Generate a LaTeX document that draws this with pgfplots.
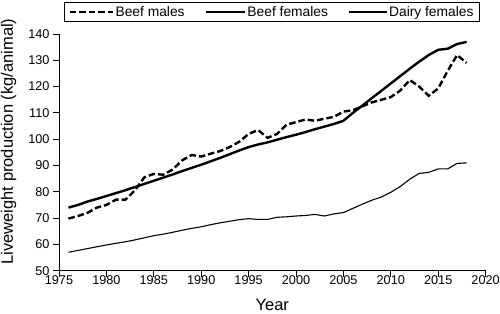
\documentclass[border=0pt]{standalone}
\usepackage{fontspec}
\setmainfont{Liberation Sans}
\usepackage{pgfplots}
\pgfplotsset{compat=1.18}
\pgfplotsset{legline/.style 2 args={legend image code/.code={\draw[##1, line width=#2] (0pt,0pt) -- (#1,0pt);}}}
\begin{document}
\begin{tikzpicture}
\path[use as bounding box] (0pt,0pt) rectangle (500pt,313pt);
\begin{axis}[
  at={(59pt,42.3pt)}, anchor=south west,
  scale only axis, width=426.6pt, height=236.7pt,
  xmin=1975, xmax=2020, ymin=50, ymax=140,
  axis x line=bottom, axis y line=left,
  axis line style={-, line width=1pt, black},
  xtick={1975,1980,...,2020}, ytick={50,60,...,140},
  tick align=outside, major tick length=6pt,
  tick style={black, line width=1pt},
  /pgf/number format/assume math mode=true,
  /pgf/number format/1000 sep={},
  ticklabel style={font=\fontsize{12.7}{14}\selectfont},
  xticklabel style={yshift=5pt},
  xlabel={Year}, ylabel={Liveweight production (kg/animal)},
  label style={font=\fontsize{16.5}{18}\selectfont},
  xlabel style={at={(axis description cs:0.5,-0.146)}, anchor=center, inner sep=0pt},
  ylabel style={at={(axis description cs:-0.1184,0.546)}, anchor=center},
  legend columns=3,
  legend style={at={(axis description cs:0.4989,1.093)}, anchor=center,
    draw=black, font=\fontsize{13.8}{16}\selectfont,
    /tikz/line width=1pt,
    inner xsep=4.5pt, inner ysep=1pt,
    nodes={inner xsep=1.5pt, inner ysep=3pt},
    /tikz/every even column/.append style={column sep=19pt}},
]
\addplot[black, line width=2.4pt, dash pattern=on 6.5pt off 3pt, legline={43pt}{2.4pt}] coordinates {
(1976,69.8) (1977,70.8) (1978,72.0) (1979,74.0) (1980,75.0) (1981,77.0)
(1982,77.0) (1983,80.5) (1984,85.5) (1985,86.8) (1986,86.5) (1987,88.5)
(1988,92.0) (1989,94.0) (1990,93.4) (1991,94.5) (1992,95.5) (1993,97.0)
(1994,99.0) (1995,102.0) (1996,103.5) (1997,100.5) (1998,102.0) (1999,105.5)
(2000,106.5) (2001,107.5) (2002,107.0) (2003,107.8) (2004,108.5) (2005,110.5)
(2006,111.0) (2007,112.5) (2008,114.0) (2009,115.0) (2010,116.0) (2011,118.5)
(2012,122.5) (2013,120.0) (2014,116.5) (2015,119.3) (2016,126.0) (2017,132.0)
(2018,129.0)};
\addlegendentry{Beef males}
\addplot[black, line width=2.4pt, legline={38.5pt}{2.4pt}] coordinates {
(1976,74.0) (1977,75.0) (1978,76.3) (1979,77.3) (1980,78.4) (1981,79.5)
(1982,80.6) (1983,81.8) (1984,83.0) (1985,84.2) (1986,85.4) (1987,86.6)
(1988,87.9) (1989,89.1) (1990,90.3) (1991,91.6) (1992,92.9) (1993,94.3)
(1994,95.7) (1995,97.0) (1996,98.0) (1997,98.8) (1998,99.8) (1999,100.8)
(2000,101.7) (2001,102.7) (2002,103.8) (2003,104.8) (2004,105.8) (2005,107.0)
(2006,110.0) (2007,112.8) (2008,115.6) (2009,118.4) (2010,121.2) (2011,124.0)
(2012,126.8) (2013,129.5) (2014,132.0) (2015,134.0) (2016,134.4) (2017,136.2)
(2018,137.0)};
\addlegendentry{Beef females}
\addplot[black, line width=1.1pt, legline={38pt}{1.1pt}] coordinates {
(1976,57.0) (1977,57.7) (1978,58.4) (1979,59.1) (1980,59.8) (1981,60.4)
(1982,61.0) (1983,61.7) (1984,62.5) (1985,63.3) (1986,63.9) (1987,64.6)
(1988,65.4) (1989,66.1) (1990,66.7) (1991,67.5) (1992,68.2) (1993,68.8)
(1994,69.4) (1995,69.8) (1996,69.5) (1997,69.5) (1998,70.3) (1999,70.5)
(2000,70.8) (2001,71.0) (2002,71.4) (2003,70.8) (2004,71.6) (2005,72.1)
(2006,73.7) (2007,75.3) (2008,76.8) (2009,78.0) (2010,79.8) (2011,82.0)
(2012,84.8) (2013,87.0) (2014,87.4) (2015,88.7) (2016,88.7) (2017,90.8)
(2018,91.0)};
\addlegendentry{Dairy females}
\end{axis}
\end{tikzpicture}
\end{document}
